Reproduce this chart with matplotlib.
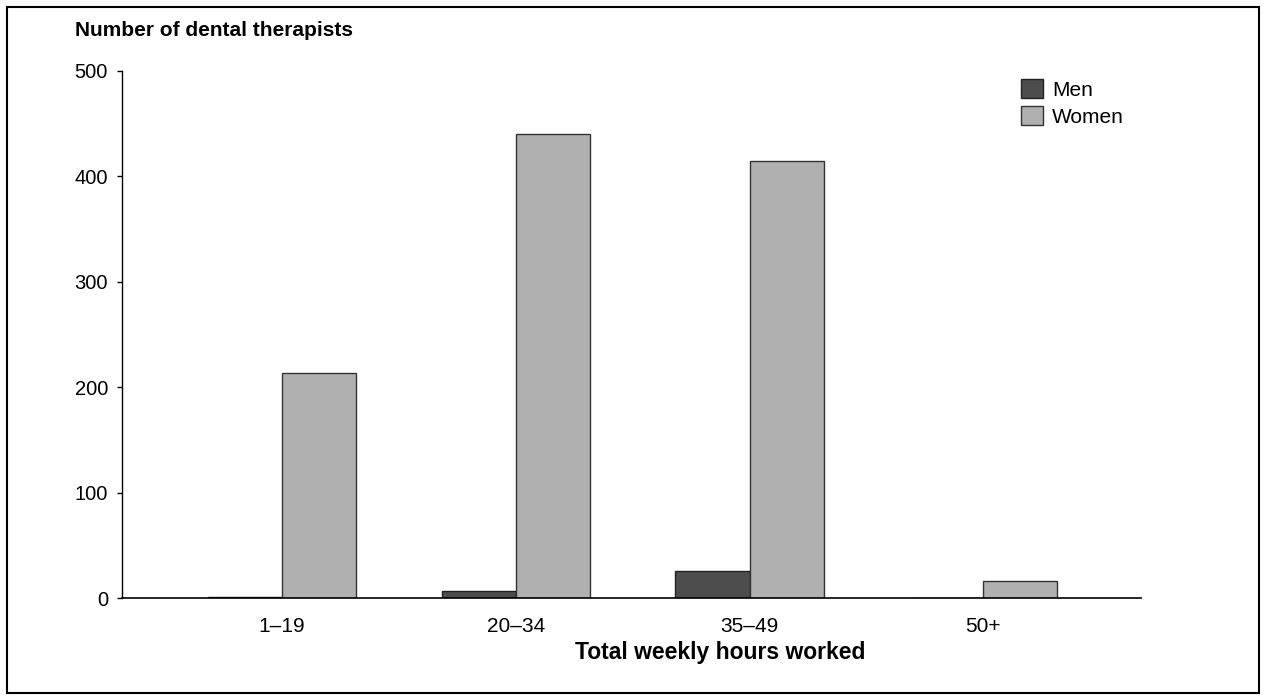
import matplotlib
matplotlib.use("Agg")
import matplotlib.pyplot as plt
import numpy as np
from matplotlib.patches import Rectangle

plt.rcParams['font.family'] = ['Liberation Sans', 'DejaVu Sans']

categories = ["1–19", "20–34", "35–49", "50+"]
men = [1, 7, 26, 0]
women = [213, 440, 415, 16]
yticks = [0, 100, 200, 300, 400, 500]

W, H = 1266, 700
fig = plt.figure(figsize=(W/100, H/100), dpi=100)
ax = fig.add_axes([122/W, 1-598/H, (1141-122)/W, (598-71)/H])

x = np.arange(len(categories))
bw = 0.317
ax.bar(x - bw/2, men, bw, color='#4d4d4d', edgecolor='#222222', linewidth=1, label='Men')
ax.bar(x + bw/2, women, bw, color='#b0b0b0', edgecolor='#333333', linewidth=1, label='Women')

ax.set_xlim(-0.685, 3.675)
ax.set_ylim(0, 500)
ax.set_yticks(yticks)
ax.set_xticks(x)
ax.set_xticklabels(categories, fontsize=15)
ax.tick_params(axis='x', length=0, pad=14)
ax.tick_params(axis='y', length=3.6, width=1, labelsize=14.5, pad=6.5)
for s in ['top', 'right']:
    ax.spines[s].set_visible(False)
ax.spines['left'].set_linewidth(1)
ax.spines['bottom'].set_linewidth(1.2)

fig.text(720/W, 1-652/H, "Total weekly hours worked", fontsize=16.5, fontweight='bold',
         ha='center', va='center')
fig.text(75/W, 1-30/H, "Number of dental therapists", fontsize=15, fontweight='bold',
         ha='left', va='center')

ax.legend(loc='upper left', bbox_to_anchor=((1021-122)/(1141-122), 1-(79-71)/(598-71)),
          frameon=False, fontsize=15, handlelength=1.06, handleheight=1.06,
          handletextpad=0.43, labelspacing=0.29, borderaxespad=0, borderpad=0)

fig.patches.append(Rectangle((7/W, 7/H), (W-14)/W, (H-14)/H, transform=fig.transFigure,
                             fill=False, edgecolor='black', linewidth=1.5))

fig.savefig("out.png", dpi=100)
